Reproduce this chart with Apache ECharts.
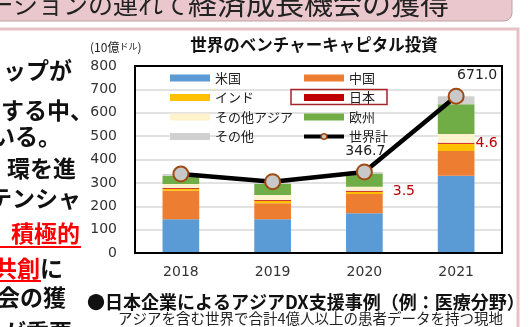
<!DOCTYPE html>
<html><head><meta charset="utf-8">
<script src="https://cdn.jsdelivr.net/npm/echarts@6/dist/echarts.min.js"></script>
<style>html,body{margin:0;padding:0;background:#fff;overflow:hidden}#c{width:529px;height:327px}</style>
</head><body><div id="c"></div>
<script>
// ---- data ----
const years = ['2018', '2019', '2020', '2021'];
const usa = [144, 144, 170, 330];
const china = [122, 69, 82, 106];
const india = [8, 11, 10.5, 31];
const japan = [2.9, 2.4, 3.5, 4.6];
const otherAsia = [18, 22, 17, 38];
const europe = [36, 48, 57, 127];
const others = [7.1, 8.6, 6.7, 34.4];
const worldTotal = [338, 305, 346.7, 671.0];
const seriesNames = ['米国', '中国', 'インド', '日本', 'その他アジア', '欧州', 'その他', '世界計'];
const labeledJapan = [2, 3];
const labeledTotal = [2, 3];

const JP = '"Noto Sans CJK JP", sans-serif';
const NUM = '"DejaVu Sans", sans-serif';
const colors = ['#5B9BD5', '#ED7D31', '#FFC000', '#C00000', '#FFF2CC', '#70AD47', '#D0D0D0'];
const barValues = [usa, china, india, japan, otherAsia, europe, others];

const chart = echarts.init(document.getElementById('c'), null, {renderer: 'canvas'});

const barSeries = barValues.map((vals, k) => ({
  name: seriesNames[k],
  type: 'bar',
  stack: 'vc',
  barWidth: '40%',
  barMinHeight: k === 3 ? 1 : 0,
  itemStyle: {color: colors[k]},
  emphasis: {disabled: true},
  data: vals.map((v, i) => {
    if (k === 3 && labeledJapan.includes(i)) {
      return {value: v, label: {show: true, position: 'right', distance: i === 2 ? 10 : 1,
        formatter: p => p.value.toFixed(1), color: '#C00000', fontSize: 14, fontFamily: NUM}};
    }
    return v;
  })
}));

const lineSeries = {
  name: seriesNames[7],
  type: 'line',
  z: 5,
  symbol: 'circle',
  symbolSize: 15,
  lineStyle: {color: '#000', width: 4.5},
  itemStyle: {color: '#C8C8C8', borderColor: '#9E4A14', borderWidth: 2},
  emphasis: {disabled: true},
  data: worldTotal.map((v, i) => labeledTotal.includes(i)
    ? {value: v, label: {show: true, position: 'top', distance: 5,
        offset: i === 3 ? [21, 0] : [1, 0],
        formatter: p => p.value.toFixed(1), color: '#222', fontSize: 14, fontFamily: NUM}}
    : v)
};

const legendText = {fontSize: 13, fontFamily: JP, color: '#222', lineHeight: 14};
const mkLegendItem = n => n === '世界計'
  ? {name: n, lineStyle: {color: '#000', width: 4}, itemStyle: {color: '#C8C8C8', borderColor: '#9E4A14', borderWidth: 1.5}}
  : {name: n, icon: 'rect'};

const txt = (x, y, text, font, fill, align, extra) => Object.assign({
  type: 'text', x: x, y: y, silent: true,
  style: {text: text, font: font, fill: fill, align: align || 'left', verticalAlign: 'middle'}
}, extra || {});

const graphics = [
  // banner
  {type: 'rect', silent: true, shape: {x: -10, y: -10, width: 522, height: 31, r: [0, 0, 8, 0]},
   style: {fill: '#E9C7CC', stroke: '#BFA0A5', lineWidth: 1}},
  txt(188, 4, 'ーションの連れて', '25px ' + JP, '#222', 'right'),
  txt(449, 4, '経済成長機会の獲得', '29px ' + JP, '#222', 'right'),
  // panel
  {type: 'rect', silent: true, shape: {x: -10, y: 29, width: 528, height: 320},
   style: {fill: null, stroke: '#E6C2C7', lineWidth: 3}},
  // unit + title
  {type: 'text', x: 90, y: 47, silent: true, style: {
    text: '{a|(10億}{b|ドル}{a|)}', verticalAlign: 'middle',
    rich: {a: {fontSize: 12, fontFamily: JP, fill: '#222'}, b: {fontSize: 9, fontFamily: JP, fill: '#222'}}}},
  txt(314, 45, '世界のベンチャーキャピタル投資', 'bold 16.5px ' + JP, '#111', 'center'),
  // left column
  txt(72, 70.5, 'ップが', 'bold 23px ' + JP, '#111', 'right'),
  txt(93, 110, 'する中、', 'bold 23px ' + JP, '#111', 'right'),
  txt(61, 136, 'いる。', 'bold 23px ' + JP, '#111', 'right'),
  txt(76, 168, '環を進', 'bold 23px ' + JP, '#111', 'right'),
  txt(81, 198, 'テンシャ', 'bold 23px ' + JP, '#111', 'right'),
  txt(80, 233, '積極的', 'bold 23px ' + JP, '#FF0000', 'right'),
  {type: 'line', silent: true, shape: {x1: 0, y1: 247, x2: 81, y2: 247}, style: {stroke: '#FF0000', lineWidth: 2}},
  txt(40, 268, '共創', 'bold 23px ' + JP, '#FF0000', 'right'),
  {type: 'line', silent: true, shape: {x1: 0, y1: 281, x2: 41, y2: 281}, style: {stroke: '#FF0000', lineWidth: 2}},
  txt(40, 268, 'に', 'bold 23px ' + JP, '#111', 'left'),
  txt(66, 297, '会の獲', 'bold 23px ' + JP, '#111', 'right'),
  txt(72, 332, 'が重要', 'bold 23px ' + JP, '#111', 'right'),
  // bottom text
  txt(87, 302, '●日本企業によるアジアDX支援事例（例：医療分野）', 'bold 18px ' + JP, '#111', 'left'),
  txt(118, 318, 'アジアを含む世界で合計4億人以上の患者データを持つ現地', '14.5px ' + JP, '#222', 'left'),
  // red box around legend 日本
  {type: 'rect', silent: true, z: 100, shape: {x: 291, y: 89.5, width: 96, height: 15},
   style: {fill: null, stroke: '#A3262A', lineWidth: 1.5}}
];

chart.setOption({
  animation: false,
  backgroundColor: '#fff',
  grid: {left: 135, right: 27, top: 66, bottom: 74, show: true, borderColor: '#000', borderWidth: 2,
         backgroundColor: 'transparent', z: 3},
  legend: [
    {data: ['米国', 'インド', 'その他アジア', 'その他'].map(mkLegendItem), orient: 'vertical',
     left: 170, top: 71, padding: 0, itemWidth: 40, itemHeight: 7, itemGap: 5.5, selectedMode: false, textStyle: legendText},
    {data: ['中国', '日本', '欧州', '世界計'].map(mkLegendItem), orient: 'vertical',
     left: 302, top: 71, padding: 0, itemWidth: 40, itemHeight: 7, itemGap: 5.5, selectedMode: false, textStyle: legendText}
  ],
  xAxis: {
    type: 'category', data: years,
    axisLine: {show: false}, axisTick: {show: false},
    axisLabel: {margin: 12, fontSize: 14, fontFamily: NUM, color: '#333'}
  },
  yAxis: {
    type: 'value', min: 0, max: 800, interval: 100,
    axisLine: {show: false}, axisTick: {show: false},
    splitLine: {lineStyle: {color: '#D9D9D9', width: 1.5}},
    axisLabel: {margin: 18, fontSize: 14, fontFamily: NUM, color: '#333'}
  },
  graphic: graphics,
  series: [...barSeries, lineSeries]
});
</script>
</body></html>
